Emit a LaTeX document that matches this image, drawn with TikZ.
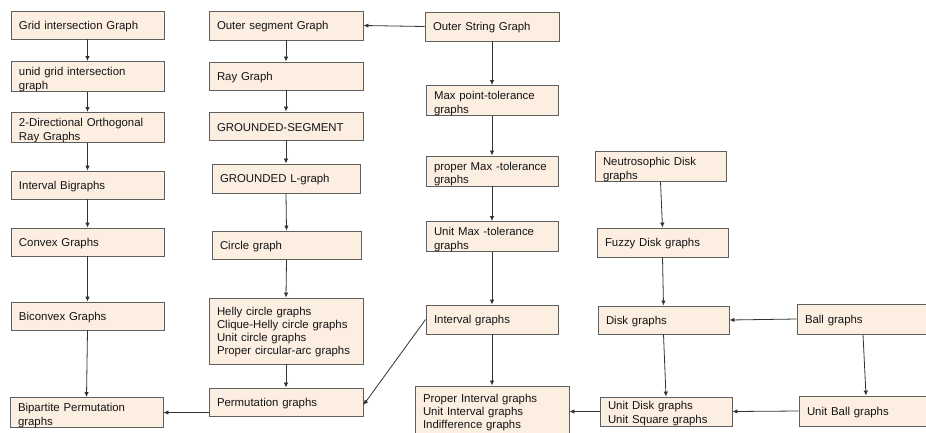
\documentclass[tikz,border=0pt]{standalone}
\usepackage{fontspec}
\setmainfont{Liberation Sans}
\usetikzlibrary{arrows.meta}
\definecolor{boxfill}{RGB}{253,238,226}
\definecolor{boxline}{RGB}{95,95,95}
\definecolor{arrowcol}{RGB}{50,50,50}
\definecolor{txtcol}{RGB}{20,20,20}
\tikzset{
  gbox/.style={draw=boxline, fill=boxfill, line width=0.9pt, align=left,
    inner xsep=0pt, inner ysep=0pt, text=txtcol,
    font=\fontsize{11.4}{13.2}\selectfont},
  conn/.style={draw=arrowcol, line width=0.8pt, -{Latex[length=5pt,width=4.5pt]}}
}
\newcommand\GBox[7][11.2]{%
  \pgfmathsetmacro\gw{#5-#3}%
  \pgfmathsetmacro\gh{#6-#4}%
  \pgfmathsetmacro\gtw{#5-#3-16}%
  \node[gbox, minimum width=\gw pt, minimum height=\gh pt, text width=\gtw pt]
    (#2) at ({(#3+#5)/2},{(#4+#6)/2}) {\rule{0pt}{#1pt}#7};}
\begin{document}
\begin{tikzpicture}[x=1pt,y=-1pt]
\useasboundingbox (0,0) rectangle (926,432);
% column 1
\GBox{g1}{11}{11}{164}{39}{Grid intersection Graph}
\GBox[14.5]{g2}{11}{62}{164}{91}{unid grid intersection\\graph}
\GBox[14.5]{g3}{11}{113}{164}{142}{2-Directional Orthogonal\\Ray Graphs}
\GBox{g4}{11}{171}{164}{199}{Interval Bigraphs}
\GBox{g5}{11}{228}{164}{256}{Convex Graphs}
\GBox{g6}{11}{302}{164}{330}{Biconvex Graphs}
\GBox[14.5]{g7}{10}{398}{163}{427}{Bipartite Permutation\\graphs}
% column 2
\GBox{s1}{209}{11}{363}{40}{Outer segment Graph}
\GBox{s2}{209}{62}{363}{90}{Ray Graph}
\GBox{s3}{209}{112}{363}{140}{GROUNDED-SEGMENT}
\GBox{s4}{212}{164}{360}{193}{GROUNDED L-graph}
\GBox{s5}{212}{231}{361}{259}{Circle graph}
\GBox[10.5]{s6}{209}{298}{363}{364}{Helly circle graphs\\Clique-Helly circle graphs\\Unit circle graphs\\Proper circular-arc graphs}
\GBox{s7}{209}{388}{363}{416}{Permutation graphs}
% column 3
\GBox{o1}{425}{12}{559}{41}{Outer String Graph}
\GBox[14.5]{o2}{426}{86}{558}{115}{Max point-tolerance\\graphs}
\GBox[14.5]{o3}{426}{157}{558}{185}{proper Max -tolerance\\graphs}
\GBox[14.5]{o4}{426}{222}{558}{251}{Unit Max -tolerance\\graphs}
\GBox{o5}{426}{305}{558}{334}{Interval graphs}
\GBox[11.5]{o6}{415}{386}{569}{436}{Proper Interval graphs\\Unit Interval graphs\\Indifference graphs}
% column 4
\GBox[14.5]{d1}{595}{152}{726}{181}{Neutrosophic Disk\\graphs}
\GBox{d2}{597}{228}{728}{257}{Fuzzy Disk graphs}
\GBox{d3}{598}{306}{729}{334}{Disk graphs}
\GBox[12.5]{d4}{600}{397}{732}{426}{Unit Disk graphs\\Unit Square graphs}
\GBox{b1}{797}{304}{929}{334}{Ball graphs}
\GBox{b2}{799}{396}{933}{426}{Unit Ball graphs}
% connectors
\draw[conn] (g1.south) -- (g2.north);
\draw[conn] (g2.south) -- (g3.north);
\draw[conn] (g3.south) -- (g4.north);
\draw[conn] (g4.south) -- (g5.north);
\draw[conn] (g5.south) -- (g6.north);
\draw[conn] (g6.south) -- (g7.north);
\draw[conn] (s1.south) -- (s2.north);
\draw[conn] (s2.south) -- (s3.north);
\draw[conn] (s3.south) -- (s4.north);
\draw[conn] (s4.south) -- (s5.north);
\draw[conn] (s5.south) -- (s6.north);
\draw[conn] (s6.south) -- (s7.north);
\draw[conn] (o1.west) -- (s1.east);
\draw[conn] (o1.south) -- (o2.north);
\draw[conn] (o2.south) -- (o3.north);
\draw[conn] (o3.south) -- (o4.north);
\draw[conn] (o4.south) -- (o5.north);
\draw[conn] (o5.south) -- (o6.north);
\draw[conn] (o5.west) -- ([yshift=-3pt]s7.east);
\draw[conn] (s7.west |- g7.east) -- (g7.east);
\draw[conn] (d1.south) -- (d2.north);
\draw[conn] (d2.south) -- (d3.north);
\draw[conn] (d3.south) -- (d4.north);
\draw[conn] (b1.west) -- (d3.east);
\draw[conn] (b1.south) -- (b2.north);
\draw[conn] (b2.west) -- (d4.east);
\draw[conn] (d4.west) -- (d4.west -| o6.east);
\end{tikzpicture}
\end{document}
